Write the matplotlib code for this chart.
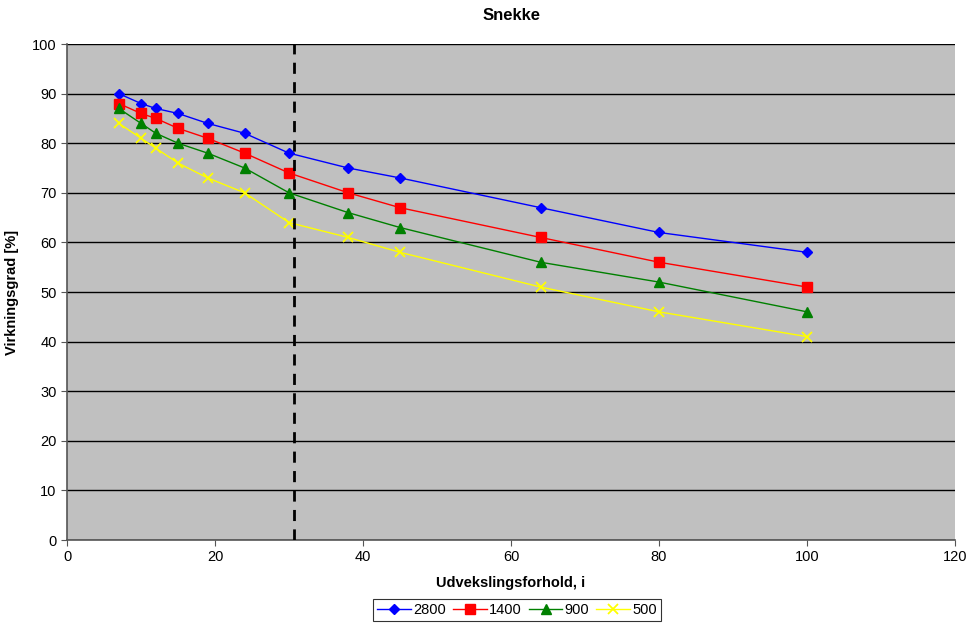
import matplotlib
matplotlib.use("Agg")
import matplotlib.pyplot as plt

plt.rcParams['font.family'] = ['Liberation Sans', 'DejaVu Sans']

# Gear ratio i and efficiency for each motor speed
ratio = [7, 10, 12, 15, 19, 24, 30, 38, 45, 64, 80, 100]
eff_2800 = [90, 88, 87, 86, 84, 82, 78, 75, 73, 67, 62, 58]
eff_1400 = [88, 86, 85, 83, 81, 78, 74, 70, 67, 61, 56, 51]
eff_900 = [87, 84, 82, 80, 78, 75, 70, 66, 63, 56, 52, 46]
eff_500 = [84, 81, 79, 76, 73, 70, 64, 61, 58, 51, 46, 41]
series_labels = ["2800", "1400", "900", "500"]
limit_ratio = 30.7

fig = plt.figure(figsize=(9.69, 6.26), dpi=100)
ax = fig.add_axes([67/969, 86/626, 888/969, 496/626])
ax.set_facecolor('#c0c0c0')

styles = [
    dict(color='#0000ff', marker='D', markersize=5.5),
    dict(color='#ff0000', marker='s', markersize=6.5),
    dict(color='#008000', marker='^', markersize=7),
    dict(color='#ffff00', marker='x', markersize=7, markeredgewidth=1.3),
]
for ys, lab, st in zip([eff_2800, eff_1400, eff_900, eff_500], series_labels, styles):
    ax.plot(ratio, ys, linewidth=1.0, label=lab, zorder=3, **st)

ax.axvline(limit_ratio, color='black', linestyle=(0, (4, 3)), linewidth=2.0, zorder=4)

ax.set_xlim(0, 120)
ax.set_ylim(0, 100)
ax.set_xticks(range(0, 121, 20))
ax.set_yticks(range(0, 101, 10))
ax.yaxis.grid(True, color='black', linewidth=1.0)
ax.set_axisbelow(True)
ax.tick_params(direction='out', length=4, labelsize=10.5, color='#555555')
for s in ['top', 'right']:
    ax.spines[s].set_visible(False)
for s in ['left', 'bottom']:
    ax.spines[s].set_color('#555555')
    ax.spines[s].set_linewidth(1.2)

ax.set_xlabel("Udvekslingsforhold, i", fontsize=10.5, fontweight='bold', labelpad=8)
ax.set_ylabel("Virkningsgrad [%]", fontsize=10.5, fontweight='bold', labelpad=9)
fig.text(512/969, 1 - 15/626, "Snekke", ha='center', va='center', fontsize=12, fontweight='bold')

leg = fig.legend(loc='center', bbox_to_anchor=(517/969, 1 - 610/626), ncol=4,
                 frameon=True, fancybox=False, edgecolor='black', fontsize=10.5,
                 handlelength=2.3, handletextpad=0.15, columnspacing=0.5,
                 borderpad=0.3)
leg.get_frame().set_linewidth(0.8)

fig.savefig("out.png", dpi=100)
